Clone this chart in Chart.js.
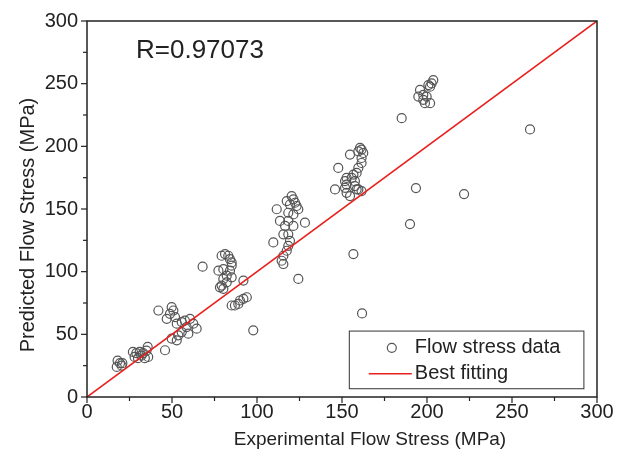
<!DOCTYPE html>
<html>
<head>
<meta charset="utf-8">
<script src="https://cdn.jsdelivr.net/npm/chart.js@4.4.1/dist/chart.umd.min.js"></script>
<style>
  html, body { margin: 0; padding: 0; background: #fff; }
  #wrap { width: 626px; height: 459px; }
</style>
</head>
<body>
<div id="wrap"><canvas id="c" width="626" height="459"></canvas></div>
<script>
// Experimental vs predicted flow stress (MPa)
const expStress = [
  18, 19.4, 20.8, 17.5, 20.4, 27, 29, 31, 32, 33, 35, 34, 36, 35.7, 30, 28,
  42, 49.8, 50.8, 48.8, 51.8, 46.9, 52.8, 55.7, 57.6, 60.6, 58.6, 55.7, 53.7, 49.8, 52.8, 64.5, 45.9, 59.6, 62.5,
  68, 79.2, 81.2, 83.1, 84.1, 85.1, 85.1, 77.3, 80.2, 84.1, 85.1, 82.2, 80.2, 79.2, 80.2, 78.2, 82.2, 92, 85.1, 87, 89, 90, 92, 94, 97.8,
  120.4, 121.4, 122.4, 123.3, 117.5, 119.4, 124.3, 111.6, 121.4, 118.4, 113.5, 118.4, 121.4, 128.2, 116.5, 115.5, 118.4, 109.6, 119.4, 118.4, 117.5, 115.5, 114.5, 115.5, 124.3,
  160.6, 161.5, 159.6, 162.5, 154.7, 161.5, 161.5, 147.8, 159.6, 158.6, 156.7, 155.7, 152.7, 151.8, 157.6, 152.7, 157.6, 151.8, 145.9, 159.6, 152.7, 154.7, 161.5, 158.6, 156.7,
  161.8, 190, 193.5, 221.8, 260.6, 185.1,
  203.7, 202.7, 201.8, 200.8, 195.9, 194.9, 197.8, 199.8, 197.8, 201.8, 198.8
];
const predStress = [
  29, 27, 27, 24, 25, 36, 35, 36, 33, 35, 37, 31, 32, 40, 31, 32,
  69, 71.7, 69, 66.4, 63.7, 62.4, 58.5, 59.8, 61, 62.4, 55.8, 51.8, 49.2, 46.6, 45.2, 54.5, 37.3, 50.5, 58.5,
  104, 112.7, 114, 112.7, 110, 107.4, 104.8, 100.8, 102, 100.8, 95.5, 96.8, 94.2, 88.9, 86.3, 87.5, 91.5, 92.9, 73, 73, 74.3, 77, 78.3, 79.6, 53.2,
  160.3, 157.7, 155, 152.4, 156.3, 153.6, 149.8, 149.8, 145.7, 147, 140.5, 140.5, 136.5, 139.1, 136.5, 129.8, 129.8, 123.3, 124.6, 120.6, 116.7, 112.7, 108.7, 106.1, 94.2,
  198.7, 197.4, 196, 194.7, 193.4, 190.7, 186.7, 182.8, 182.8, 178.8, 177.5, 174.8, 174.8, 172.2, 172.2, 169.5, 168.3, 166.9, 165.6, 165.6, 162.9, 160.3, 164.3, 165.6, 114,
  66.7, 138, 166.7, 161.9, 213.5, 222.5,
  252.9, 250.2, 247.6, 248.9, 245, 239.7, 241, 239.7, 237.1, 234.4, 234.4
];
// Best fitting line endpoints
const fitX = [0, 300];
const fitY = [0, 300];
const tickValues = [0, 50, 100, 150, 200, 250, 300];
const rText = 'R=0.97073';
const seriesNames = ['Flow stress data', 'Best fitting'];
const xTitle = 'Experimental Flow Stress (MPa)';
const yTitle = 'Predicted Flow Stress (MPa)';

const FONT = '"Liberation Sans", Arial, sans-serif';
const INK = '#222';

const dataPoints = expStress.map((x, i) => ({ x: x, y: predStress[i] }));
const fitPoints = fitX.map((x, i) => ({ x: x, y: fitY[i] }));

// Frame, minor/major ticks, axis titles, R label and boxed legend
const decor = {
  id: 'decor',
  afterDraw(chart) {
    const ctx = chart.ctx;
    const a = chart.chartArea;
    const xs = chart.scales.x, ys = chart.scales.y;
    ctx.save();
    ctx.strokeStyle = INK;
    ctx.lineWidth = 1.5;
    ctx.strokeRect(a.left, a.top, a.right - a.left, a.bottom - a.top);
    ctx.lineWidth = 1.2;
    for (let v = 0; v <= 300; v += 25) {
      const major = v % 50 === 0;
      const len = major ? 6 : 4;
      const px = xs.getPixelForValue(v);
      ctx.beginPath(); ctx.moveTo(px, a.bottom); ctx.lineTo(px, a.bottom + len); ctx.stroke();
      const py = ys.getPixelForValue(v);
      ctx.beginPath(); ctx.moveTo(a.left, py); ctx.lineTo(a.left - len, py); ctx.stroke();
    }
    ctx.fillStyle = INK;
    ctx.textBaseline = 'middle';
    // axis titles
    ctx.textAlign = 'center';
    ctx.font = '19px ' + FONT;
    ctx.fillText(xTitle, a.left + 283, 440);
    ctx.save();
    ctx.translate(28, 225);
    ctx.rotate(-Math.PI / 2);
    ctx.font = '20px ' + FONT;
    ctx.fillText(yTitle, 0, 0);
    ctx.restore();
    // R label
    ctx.textAlign = 'left';
    ctx.font = '26px ' + FONT;
    ctx.fillText(rText, a.left + 49, a.top + 30);
    // legend box
    const bx = xs.getPixelForValue(154), by = ys.getPixelForValue(53);
    const bw = xs.getPixelForValue(292) - bx, bh = ys.getPixelForValue(7) - by;
    ctx.fillStyle = '#fff';
    ctx.fillRect(bx, by, bw, bh);
    ctx.strokeStyle = '#333';
    ctx.lineWidth = 1;
    ctx.strokeRect(bx + 0.5, by + 0.5, bw, bh);
    const row1 = by + bh * 0.30, row2 = by + bh * 0.75;
    ctx.strokeStyle = '#555';
    ctx.lineWidth = 1.2;
    ctx.beginPath(); ctx.arc(bx + 43, row1, 4.5, 0, Math.PI * 2); ctx.stroke();
    ctx.strokeStyle = '#e8211d';
    ctx.lineWidth = 1.5;
    ctx.beginPath(); ctx.moveTo(bx + 20, row2); ctx.lineTo(bx + 63, row2); ctx.stroke();
    ctx.fillStyle = INK;
    ctx.font = '20px ' + FONT;
    ctx.fillText(seriesNames[0], bx + 66, row1);
    ctx.fillText(seriesNames[1], bx + 66, row2);
    ctx.restore();
  }
};

new Chart(document.getElementById('c'), {
  type: 'scatter',
  data: {
    datasets: [
      {
        label: seriesNames[1],
        data: fitPoints,
        showLine: true,
        borderColor: '#e8211d',
        borderWidth: 1.6,
        pointRadius: 0,
        fill: false,
        order: 0
      },
      {
        label: seriesNames[0],
        data: dataPoints,
        pointStyle: 'circle',
        pointRadius: 4.5,
        pointBorderWidth: 1.2,
        pointBorderColor: '#555',
        pointBackgroundColor: 'rgba(0,0,0,0)',
        order: 1
      }
    ]
  },
  options: {
    responsive: false,
    animation: false,
    layout: { padding: { top: 19, right: 29, left: 0, bottom: 0 } },
    plugins: { legend: { display: false }, tooltip: { enabled: false } },
    scales: {
      x: {
        type: 'linear', min: 0, max: 300,
        afterBuildTicks: (s) => { s.ticks = tickValues.map(v => ({ value: v })); },
        afterFit: (s) => { s.height = 62; },
        grid: { display: false, drawTicks: false },
        border: { display: false },
        ticks: { color: INK, font: { family: FONT, size: 20 }, padding: 3, maxRotation: 0 }
      },
      y: {
        type: 'linear', min: 0, max: 300,
        afterBuildTicks: (s) => { s.ticks = tickValues.map(v => ({ value: v })); },
        afterFit: (s) => { s.width = 87; },
        grid: { display: false, drawTicks: false },
        border: { display: false },
        ticks: { color: INK, font: { family: FONT, size: 20 }, padding: 9 }
      }
    }
  },
  plugins: [decor]
});
</script>
</body>
</html>
